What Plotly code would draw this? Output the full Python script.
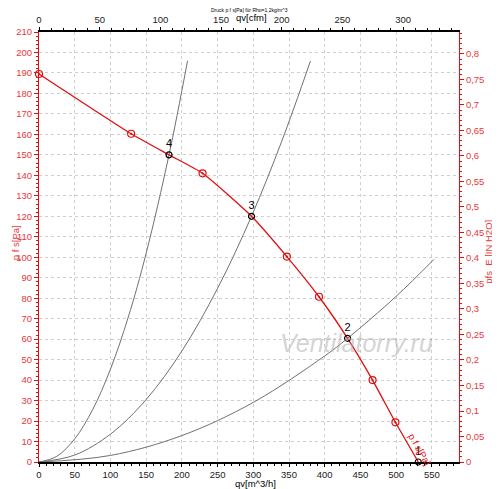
import plotly.graph_objects as go

# fan curve (red)
fan_q = [0, 129, 182, 229, 297.5, 347, 392, 432, 467, 499, 531]
fan_p = [189.5, 160.3, 150, 141, 120, 100.3, 80.7, 60.4, 40, 19.4, 0]
fan_marker_q = [0, 129, 229, 347, 392, 467, 499]
fan_marker_p = [189.5, 160.3, 141, 100.3, 80.7, 40, 19.4]

# operating points
op_q = [531, 432, 297.5, 182]
op_p = [0, 60.4, 120, 150]
op_labels = ["1", "2", "3", "4"]

# system curves (gray)
sys4_q = [0, 25, 50, 75, 100, 125, 150, 182, 208]
sys4_p = [0, 2.8, 11.3, 25.5, 45.3, 70.8, 101.9, 150, 196]
sys3_q = [0, 50, 100, 150, 200, 250, 297.5, 340, 380]
sys3_p = [0, 3.4, 13.6, 30.5, 54.2, 84.8, 120, 156.8, 195.8]
sys2_q = [0, 100, 200, 300, 400, 432, 500, 553]
sys2_p = [0, 3.2, 12.9, 29.1, 51.8, 60.4, 80.9, 99]

Q_MAX = 588
P_MAX = 210
CFM = 1.699      # m3/h per cfm
INH2O = 249.09   # Pa per inH2O

RED = "#e01010"
RED_TXT = "#e8383d"
GRAY = "#707070"
GRID = "#cfcfcf"
FONT = "Liberation Sans"
TICK = 9.5

fig = go.Figure()

for q, p in [(sys4_q, sys4_p), (sys3_q, sys3_p), (sys2_q, sys2_p)]:
    fig.add_trace(go.Scatter(x=q, y=p, mode="lines", line=dict(color=GRAY, width=1, shape="spline"),
                             hoverinfo="skip"))

fig.add_trace(go.Scatter(x=fan_q, y=fan_p, mode="lines", line=dict(color=RED, width=1.3, shape="spline", smoothing=0.5)))
fig.add_trace(go.Scatter(x=fan_marker_q, y=fan_marker_p, mode="markers", cliponaxis=False,
                         marker=dict(symbol="circle-open-dot", size=7, color=RED, line=dict(width=1.2))))
fig.add_trace(go.Scatter(x=op_q, y=op_p, mode="markers+text", text=op_labels, textposition="top center",
                         cliponaxis=False,
                         textfont=dict(family=FONT, size=11, color="black"),
                         marker=dict(symbol="circle-open", size=6, color="black", line=dict(width=1.2))))

# dummy traces to activate secondary axes
fig.add_trace(go.Scatter(x=[0], y=[0], xaxis="x2", yaxis="y", mode="markers", marker=dict(opacity=0), hoverinfo="skip"))
fig.add_trace(go.Scatter(x=[0], y=[0], xaxis="x", yaxis="y2", mode="markers", marker=dict(opacity=0), hoverinfo="skip"))

# page body adds 8px, so the figure is 8px smaller than the window
fig.update_layout(
    width=492, height=481,
    margin=dict(l=31, r=41, t=24, b=27, autoexpand=False),
    paper_bgcolor="white", plot_bgcolor="white",
    showlegend=False,
    separators=",.",
    font=dict(family=FONT, size=TICK, color="black"),
    xaxis=dict(range=[0, Q_MAX], dtick=50, tick0=0, showline=True, linecolor="black", linewidth=2,
               ticks="outside", ticklen=3, tickcolor="black", automargin=False,
               showgrid=True, gridcolor=GRID, griddash="dot", gridwidth=1, zeroline=False,
               minor=dict(dtick=10, ticks="outside", ticklen=2, tickcolor="black", showgrid=False),
               tickfont=dict(size=TICK, color="#222")),
    xaxis2=dict(range=[0, Q_MAX / CFM], dtick=50, tick0=0, overlaying="x", side="top",
                showline=True, linecolor="black", linewidth=2, ticks="outside", ticklen=3, tickcolor="black",
                showgrid=False, zeroline=False, automargin=False,
                minor=dict(dtick=10, ticks="outside", ticklen=2, tickcolor="black"),
                tickfont=dict(size=TICK, color="#222")),
    yaxis=dict(range=[0, P_MAX], dtick=10, tick0=0, showline=True, linecolor=RED, linewidth=1,
               ticks="outside", ticklen=4, tickcolor=RED, automargin=False,
               showgrid=True, gridcolor=GRID, griddash="dot", gridwidth=1, zeroline=False,
               minor=dict(dtick=2, ticks="outside", ticklen=2, tickcolor=RED, showgrid=False),
               tickfont=dict(size=TICK, color=RED_TXT)),
    yaxis2=dict(range=[0, P_MAX / INH2O], dtick=0.05, tick0=0, overlaying="y", side="right",
                showline=True, linecolor=RED, linewidth=1, ticks="outside", ticklen=4, tickcolor=RED,
                showgrid=False, zeroline=False, automargin=False,
                minor=dict(dtick=0.01, ticks="outside", ticklen=2, tickcolor=RED),
                tickfont=dict(size=TICK, color=RED_TXT)),
)


def note(text, x, y, size, color, angle=0, family=FONT, ref="paper"):
    fig.add_annotation(text=text, xref=ref if ref == "paper" else "x", yref=ref if ref == "paper" else "y",
                       x=x, y=y, textangle=angle, xanchor="center", yanchor="middle",
                       showarrow=False, font=dict(size=size, color=color, family=family))


note("Druck p f s[Pa] für Rho=1,2kg/m^3", 0.5, 1.052, 5, "black")
note("qv[cfm]", 0.505, 1.034, 9.5, "black")
note("qv[m^3/h]", 0.515, -0.051, 9.5, "black")
note("p f s[Pa]", -0.056, 0.51, 9.5, RED_TXT, angle=-90)
note("pfs_E [IN H2O]", 1.07, 0.49, 9.5, RED_TXT, angle=-90)
note("p f s[Pa]", 533, 6, 9.5, RED, angle=60, ref="data")
note("<i>Ventilatorry.ru</i>", 0.755, 0.277, 25, "rgba(175,175,175,0.55)")

fig.write_html("out.html")
